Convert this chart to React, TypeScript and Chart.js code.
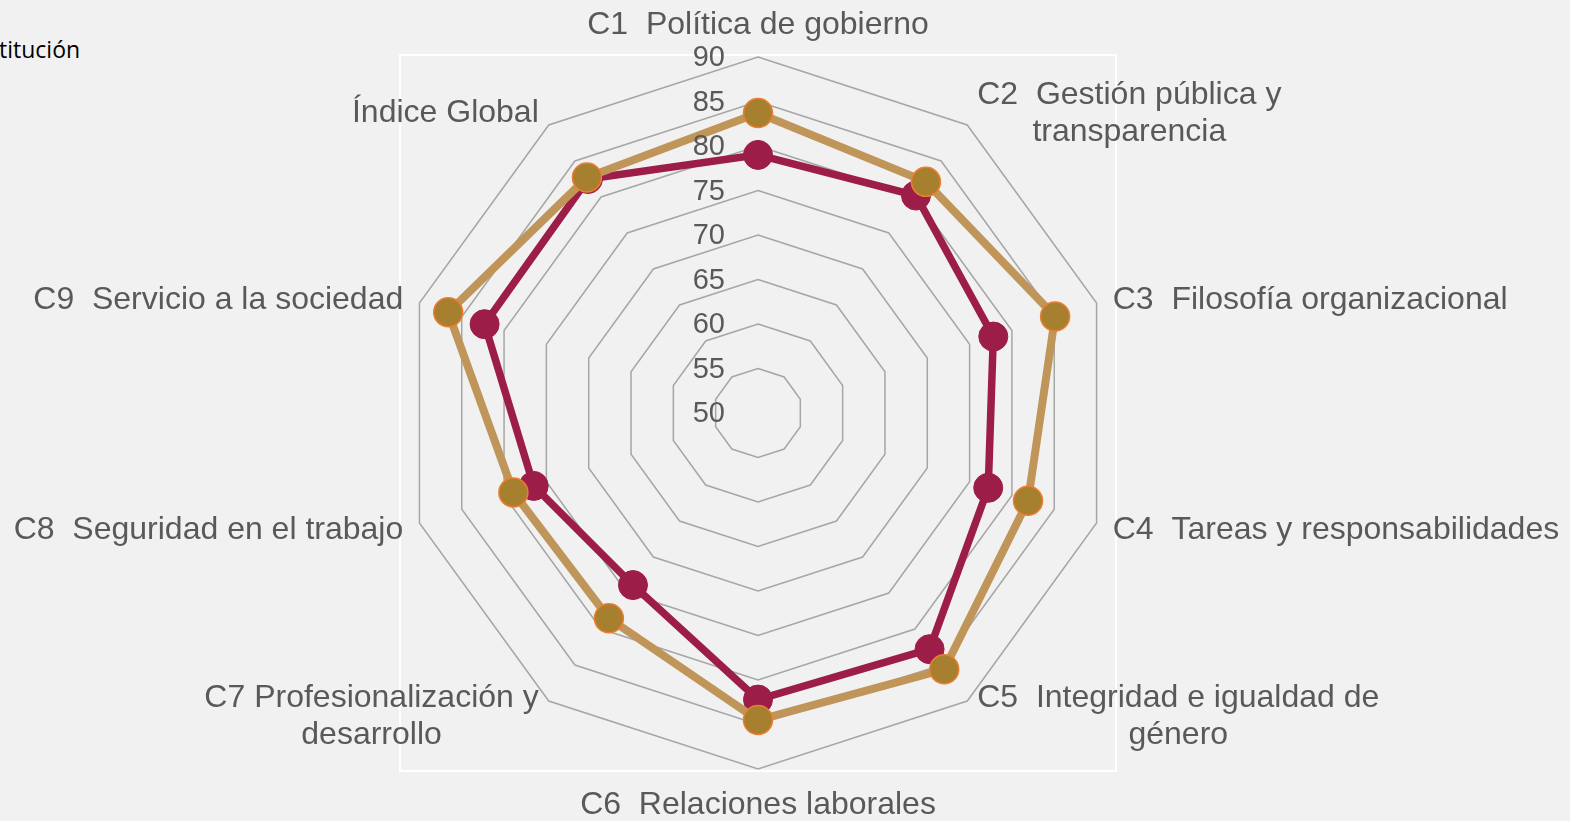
import React, { useEffect, useRef } from "react";
import { Chart, registerables } from "chart.js";

Chart.register(...registerables);

const categories: (string | string[])[] = [
  "C1  Política de gobierno",
  ["C2  Gestión pública y", "transparencia"],
  "C3  Filosofía organizacional",
  "C4  Tareas y responsabilidades",
  ["C5  Integridad e igualdad de", "género"],
  "C6  Relaciones laborales",
  ["C7 Profesionalización y", "desarrollo"],
  "C8  Seguridad en el trabajo",
  "C9  Servicio a la sociedad",
  "Índice Global",
];

const seriesGold = [83.7, 82.1, 85.1, 81.9, 85.6, 84.5, 78.5, 78.9, 86.6, 82.7];
const seriesMaroon = [79.0, 80.2, 77.8, 77.2, 82.8, 82.2, 73.9, 76.5, 82.3, 82.5];

const tickValues = [50, 55, 60, 65, 70, 75, 80, 85, 90];

const FONT = "'Liberation Sans', Arial, sans-serif";

const customPlugin = {
  id: "customRadarText",
  beforeDraw(chart: any) {
    const s = chart.scales.r;
    const ctx = chart.ctx;
    ctx.save();
    ctx.strokeStyle = "#ffffff";
    ctx.lineWidth = 2;
    const h = s.drawingArea + 2;
    ctx.strokeRect(s.xCenter - h, s.yCenter - h, 2 * h, 2 * h);
    ctx.restore();
  },
  afterDraw(chart: any) {
    const s = chart.scales.r;
    const ctx = chart.ctx;
    ctx.save();
    ctx.fillStyle = "#595959";
    ctx.font = `29px ${FONT}`;
    ctx.textAlign = "right";
    ctx.textBaseline = "middle";
    tickValues.forEach((v) => {
      const p = s.getPointPositionForValue(0, v);
      ctx.fillText(String(v), s.xCenter - 33, p.y + 1);
    });
    ctx.font = `32px ${FONT}`;
    const lh = 37;
    const labels = chart.data.labels as (string | string[])[];
    labels.forEach((lab, i) => {
      const lines = Array.isArray(lab) ? lab : [lab];
      const probe = s.getPointPosition(i, s.drawingArea + 17);
      const dx = probe.x - s.xCenter;
      let p = probe;
      let align: "left" | "right" | "center" = "center";
      if (dx > 1) align = "left";
      else if (dx < -1) align = "right";
      else p = s.getPointPosition(i, s.drawingArea + 34);
      const maxW = Math.max(...lines.map((l) => ctx.measureText(l).width));
      let cx = p.x;
      if (align === "left") cx = p.x + maxW / 2;
      if (align === "right") cx = p.x - maxW / 2;
      ctx.textAlign = "center";
      ctx.textBaseline = "middle";
      const y0 = p.y + 2 - ((lines.length - 1) * lh) / 2;
      lines.forEach((l, k) => ctx.fillText(l, cx, y0 + k * lh));
    });
    ctx.restore();
  },
};

export default function App() {
  const ref = useRef<HTMLCanvasElement | null>(null);
  useEffect(() => {
    if (!ref.current) return;
    const chart = new Chart(ref.current, {
      type: "radar",
      data: {
        labels: categories as any,
        datasets: [
          {
            label: "Promedio",
            data: seriesGold,
            borderColor: "#C09559",
            borderWidth: 8,
            backgroundColor: "#A6802F",
            pointBackgroundColor: "#A6802F",
            pointBorderColor: "#ED7D31",
            pointBorderWidth: 1.5,
            pointRadius: 14.5,
            fill: false,
            tension: 0,
          },
          {
            label: "Institución",
            data: seriesMaroon,
            borderColor: "#9C1D48",
            borderWidth: 7.5,
            backgroundColor: "#9C1D48",
            pointBackgroundColor: "#9C1D48",
            pointBorderColor: "#9C1D48",
            pointBorderWidth: 1,
            pointRadius: 14.5,
            fill: false,
            tension: 0,
          },
        ],
      },
      options: {
        animation: false,
        responsive: false,
        layout: { padding: { left: 402, right: 456, top: 57, bottom: 52 } },
        plugins: { legend: { display: false }, tooltip: { enabled: false } },
        scales: {
          r: {
            min: 50,
            max: 90,
            ticks: { stepSize: 5, display: false },
            grid: { color: "#A6A6A6", lineWidth: 1.5, circular: false },
            angleLines: { display: false },
            pointLabels: { display: false },
          },
        },
      },
      plugins: [customPlugin],
    });
    return () => chart.destroy();
  }, []);

  return (
    <div
      style={{
        position: "fixed",
        left: 0,
        top: 0,
        width: 1570,
        height: 821,
        background: "#F1F1F1",
        overflow: "hidden",
      }}
    >
      <div
        style={{
          position: "absolute",
          left: -1,
          top: 34,
          fontFamily: "'Open Sans', 'Liberation Sans', sans-serif",
          fontSize: 23,
          color: "#000000",
          whiteSpace: "nowrap",
          lineHeight: "30px",
        }}
      >
        titución
      </div>
      <canvas ref={ref} width={1570} height={821} style={{ position: "absolute", left: 0, top: 0 }} />
    </div>
  );
}
